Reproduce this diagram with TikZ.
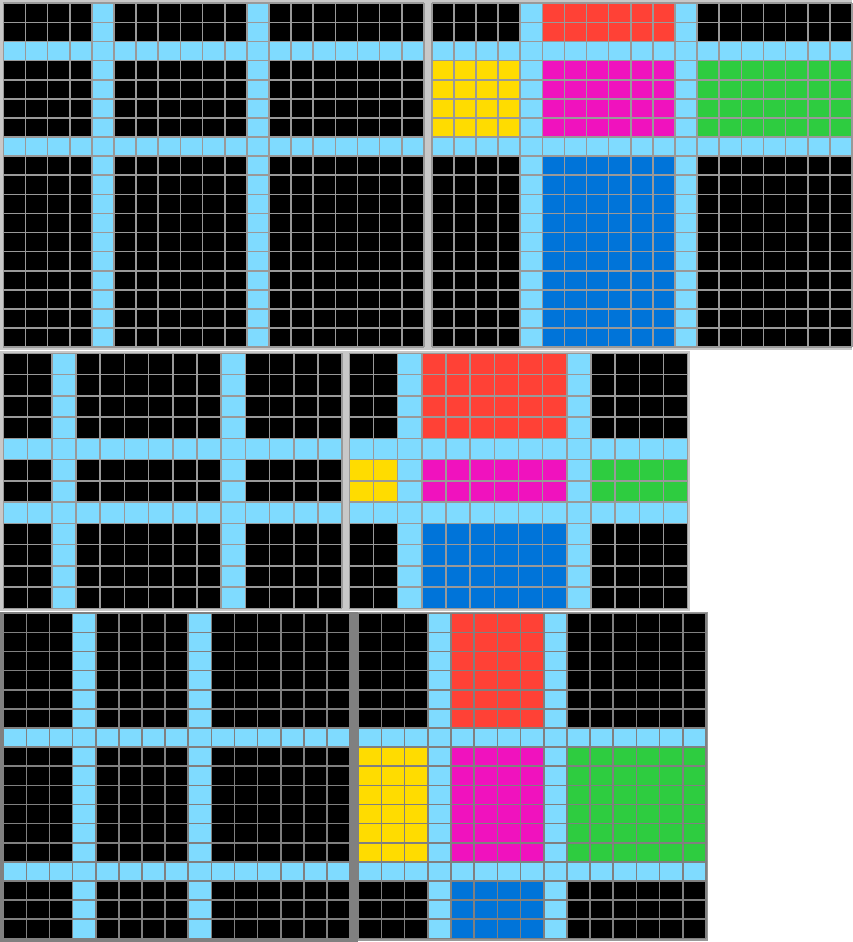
\documentclass[tikz,border=0pt]{standalone}
\definecolor{az}{HTML}{7FDBFF}
\definecolor{rd}{HTML}{FF4136}
\definecolor{yl}{HTML}{FFDC00}
\definecolor{mg}{HTML}{F012BE}
\definecolor{gr}{HTML}{2ECC40}
\definecolor{bl}{HTML}{0074D9}
\definecolor{fr}{HTML}{C8C8C8}
\definecolor{dfr}{HTML}{808080}
\definecolor{gln}{HTML}{999999}
\newcommand{\arclines}[3]{%
  \foreach \i in {0,...,#1} \draw[#3,line width=1.6pt] (\i,0) -- (\i,#2);
  \foreach \j in {0,...,#2} \draw[#3,line width=1.6pt] (0,\j) -- (#1,\j);
}
\begin{document}
\begin{tikzpicture}[x=1pt,y=-1pt]
\useasboundingbox (0,0) rectangle (852,942);
\fill[white] (0,0) rectangle (852,942);
% frames
\fill[fr] (0,0) rectangle (852,349.5);
\fill[fr] (0,351) rectangle (690,610.5);
\fill[dfr] (0,611.5) rectangle (358,942);
\fill[gln] (358,611.5) rectangle (708,941);
% ---------- Row 1 left ----------
\begin{scope}[xshift=3.3pt,yshift=-3.3pt,x=22.14pt,y=-19.1pt]
  \fill[black] (0,0) rectangle (19,18);
  \fill[az] (4,0) rectangle (5,18);
  \fill[az] (11,0) rectangle (12,18);
  \fill[az] (0,2) rectangle (19,3);
  \fill[az] (0,7) rectangle (19,8);
  \arclines{19}{18}{gln}
\end{scope}
% ---------- Row 1 right ----------
\begin{scope}[xshift=431.7pt,yshift=-3.3pt,x=22.12pt,y=-19.1pt]
  \fill[black] (0,0) rectangle (19,18);
  \fill[az] (4,0) rectangle (5,18);
  \fill[az] (11,0) rectangle (12,18);
  \fill[az] (0,2) rectangle (19,3);
  \fill[az] (0,7) rectangle (19,8);
  \fill[rd] (5,0) rectangle (11,2);
  \fill[yl] (0,3) rectangle (4,7);
  \fill[mg] (5,3) rectangle (11,7);
  \fill[gr] (12,3) rectangle (19,7);
  \fill[bl] (5,8) rectangle (11,18);
  \arclines{19}{18}{gln}
\end{scope}
% ---------- Row 2 left ----------
\begin{scope}[xshift=3.3pt,yshift=-353.3pt,x=24.21pt,y=-21.25pt]
  \fill[black] (0,0) rectangle (14,12);
  \fill[az] (2,0) rectangle (3,12);
  \fill[az] (9,0) rectangle (10,12);
  \fill[az] (0,4) rectangle (14,5);
  \fill[az] (0,7) rectangle (14,8);
  \arclines{14}{12}{gln}
\end{scope}
% ---------- Row 2 right ----------
\begin{scope}[xshift=349.3pt,yshift=-353.3pt,x=24.17pt,y=-21.25pt]
  \fill[black] (0,0) rectangle (14,12);
  \fill[az] (2,0) rectangle (3,12);
  \fill[az] (9,0) rectangle (10,12);
  \fill[az] (0,4) rectangle (14,5);
  \fill[az] (0,7) rectangle (14,8);
  \fill[rd] (3,0) rectangle (9,4);
  \fill[yl] (0,5) rectangle (2,7);
  \fill[mg] (3,5) rectangle (9,7);
  \fill[gr] (10,5) rectangle (14,7);
  \fill[bl] (3,8) rectangle (9,12);
  \arclines{14}{12}{gln}
\end{scope}
% ---------- Row 3 left ----------
\begin{scope}[xshift=3.3pt,yshift=-613.3pt,x=23.12pt,y=-19.12pt]
  \fill[black] (0,0) rectangle (15,17);
  \fill[az] (3,0) rectangle (4,17);
  \fill[az] (8,0) rectangle (9,17);
  \fill[az] (0,6) rectangle (15,7);
  \fill[az] (0,13) rectangle (15,14);
  \arclines{15}{17}{dfr}
\end{scope}
% ---------- Row 3 right ----------
\begin{scope}[xshift=358.3pt,yshift=-613.3pt,x=23.18pt,y=-19.12pt]
  \fill[black] (0,0) rectangle (15,17);
  \fill[az] (3,0) rectangle (4,17);
  \fill[az] (8,0) rectangle (9,17);
  \fill[az] (0,6) rectangle (15,7);
  \fill[az] (0,13) rectangle (15,14);
  \fill[rd] (4,0) rectangle (8,6);
  \fill[yl] (0,7) rectangle (3,13);
  \fill[mg] (4,7) rectangle (8,13);
  \fill[gr] (9,7) rectangle (15,13);
  \fill[bl] (4,14) rectangle (8,17);
  \arclines{15}{17}{dfr}
\end{scope}
\end{tikzpicture}
\end{document}
